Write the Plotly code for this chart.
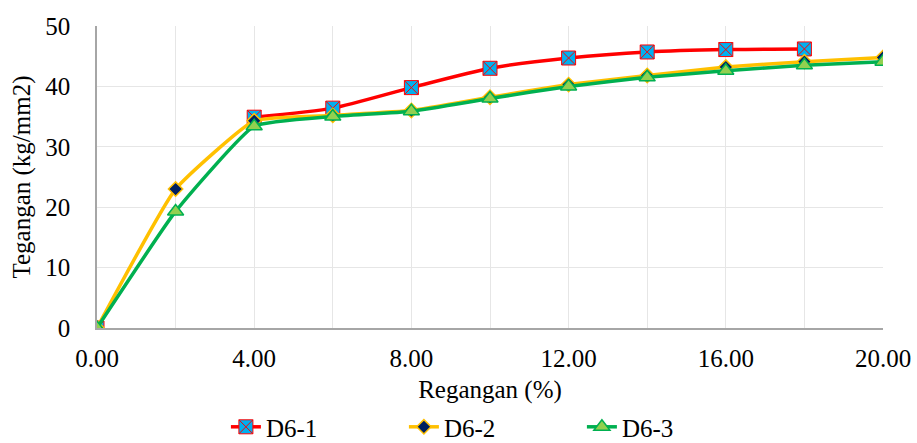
import plotly.graph_objects as go

strain = [0, 2, 4, 6, 8, 10, 12, 14, 16, 18, 20]
d6_1 = [0, None, 34.9, 36.4, 39.8, 43.0, 44.7, 45.7, 46.1, 46.2, None]
d6_2 = [0, 23.0, 34.3, 35.2, 36.0, 38.2, 40.3, 41.8, 43.2, 44.1, 44.8]
d6_3 = [0, 19.3, 33.4, 35.0, 35.9, 38.0, 40.0, 41.5, 42.6, 43.5, 44.1]

FONT = "Liberation Serif, Times New Roman, serif"
FS = 25

fig = go.Figure()
fig.add_trace(go.Scatter(
    x=strain, y=d6_1, name="D6-1", mode="lines+markers",
    line=dict(color="#ff0000", width=3.5, shape="spline", smoothing=0.6),
    marker=dict(symbol="square-x", size=14, color="#00b0f0",
                line=dict(color="#ff0000", width=1)),
    connectgaps=False))
fig.add_trace(go.Scatter(
    x=strain, y=d6_2, name="D6-2", mode="lines+markers",
    line=dict(color="#ffc000", width=3.5, shape="spline", smoothing=0.4),
    marker=dict(symbol="diamond", size=11, color="#002060",
                line=dict(color="#ffc000", width=1.5))))
fig.add_trace(go.Scatter(
    x=strain, y=d6_3, name="D6-3", mode="lines+markers",
    line=dict(color="#00b050", width=3.5, shape="spline", smoothing=0.4),
    marker=dict(symbol="triangle-up", size=14, color="#92d050",
                line=dict(color="#00b050", width=1.5))))

fig.update_layout(
    width=917, height=443,
    margin=dict(l=97, r=34, t=26, b=115, autoexpand=False),
    paper_bgcolor="white", plot_bgcolor="white",
    font=dict(family=FONT, size=FS, color="#000000"),
    showlegend=True,
    legend=dict(orientation="h", x=0.164, xanchor="left",
                yref="container", y=0.036, yanchor="middle",
                font=dict(family=FONT, size=FS), entrywidth=133, entrywidthmode="pixels",
                bgcolor="rgba(0,0,0,0)"),
)
fig.update_xaxes(
    range=[0, 20], tickmode="linear", tick0=0, dtick=4, tickformat=".2f",
    showgrid=True, gridcolor="#e6e6e6", gridwidth=1,
    minor=dict(dtick=2, showgrid=True, gridcolor="#e6e6e6", gridwidth=1),
    showline=True, linecolor="#a6a6a6", linewidth=1.5, zeroline=False,
    ticks="", ticklen=0, ticklabelstandoff=7,
    title=dict(text="Regangan (%)", font=dict(family=FONT, size=FS), standoff=22),
    tickfont=dict(family=FONT, size=FS),
    automargin=True,
)
fig.update_yaxes(
    range=[0, 50], tickmode="linear", tick0=0, dtick=10,
    showgrid=True, gridcolor="#e6e6e6", gridwidth=1,
    showline=True, linecolor="#a6a6a6", linewidth=1.5, zeroline=False,
    ticks="", ticklabelstandoff=20,
    title=dict(text="Tegangan (kg/mm2)", font=dict(family=FONT, size=FS), standoff=8),
    tickfont=dict(family=FONT, size=FS),
    automargin=True,
)

fig.write_html("out.html")
